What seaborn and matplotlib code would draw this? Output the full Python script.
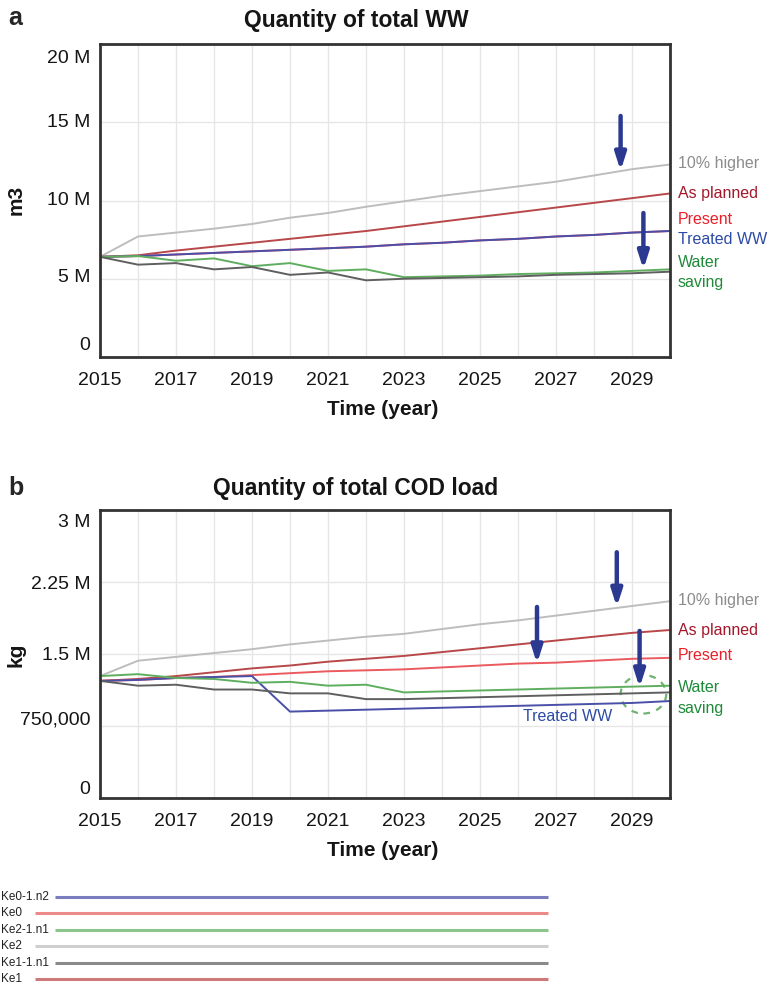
import numpy as np
import pandas as pd
import matplotlib
matplotlib.use("Agg")
import matplotlib.pyplot as plt
from matplotlib.patches import Ellipse
from matplotlib.transforms import ScaledTranslation
import seaborn as sns

years = list(range(2015, 2031))

# quantity of total WW (m3, millions)
ww_higher = [6.4, 7.7, 7.95, 8.2, 8.5, 8.9, 9.2, 9.6, 9.95, 10.3, 10.6, 10.9, 11.2, 11.6, 12.0, 12.3]
ww_planned = [6.4, 6.5, 6.8, 7.05, 7.3, 7.55, 7.8, 8.05, 8.35, 8.65, 8.95, 9.25, 9.55, 9.85, 10.15, 10.45]
ww_present = [6.4, 6.45, 6.55, 6.65, 6.75, 6.85, 6.95, 7.05, 7.2, 7.3, 7.45, 7.55, 7.7, 7.8, 7.95, 8.05]
ww_treated = [6.4, 6.45, 6.55, 6.65, 6.75, 6.85, 6.95, 7.05, 7.2, 7.3, 7.45, 7.55, 7.7, 7.8, 7.95, 8.05]
ww_saving = [6.4, 6.45, 6.15, 6.3, 5.8, 6.0, 5.5, 5.6, 5.1, 5.15, 5.2, 5.3, 5.35, 5.4, 5.5, 5.6]
ww_base = [6.4, 5.9, 6.0, 5.6, 5.75, 5.25, 5.4, 4.9, 5.0, 5.05, 5.1, 5.15, 5.25, 5.3, 5.35, 5.45]

# quantity of total COD load (kg, millions)
cod_higher = [1.27, 1.43, 1.47, 1.51, 1.55, 1.60, 1.64, 1.68, 1.71, 1.76, 1.81, 1.85, 1.90, 1.95, 2.00, 2.05]
cod_planned = [1.22, 1.24, 1.27, 1.31, 1.35, 1.38, 1.42, 1.45, 1.48, 1.52, 1.56, 1.60, 1.64, 1.68, 1.72, 1.75]
cod_present = [1.22, 1.23, 1.25, 1.26, 1.28, 1.30, 1.32, 1.33, 1.34, 1.36, 1.38, 1.40, 1.41, 1.43, 1.45, 1.46]
cod_treated = [1.22, 1.23, 1.25, 1.26, 1.27, 0.90, 0.91, 0.92, 0.93, 0.94, 0.95, 0.96, 0.97, 0.98, 0.99, 1.01]
cod_saving = [1.27, 1.29, 1.25, 1.24, 1.20, 1.21, 1.17, 1.18, 1.10, 1.11, 1.12, 1.13, 1.14, 1.15, 1.16, 1.17]
cod_base = [1.22, 1.17, 1.18, 1.13, 1.13, 1.09, 1.09, 1.03, 1.03, 1.04, 1.05, 1.06, 1.07, 1.08, 1.09, 1.10]

series = ["Ke2", "Ke1", "Ke0", "Ke0-1.n2", "Ke2-1.n1", "Ke1-1.n1"]
line_colors = {"Ke2": "#bdbdbd", "Ke1": "#b8474a", "Ke0": "#ea5a5e",
               "Ke0-1.n2": "#4a4fa8", "Ke2-1.n1": "#5fae5f", "Ke1-1.n1": "#5f5f5f"}
legend_order = ["Ke0-1.n2", "Ke0", "Ke2-1.n1", "Ke2", "Ke1-1.n1", "Ke1"]
legend_colors = {"Ke0-1.n2": "#7a7cc0", "Ke0": "#ec8a8a", "Ke2-1.n1": "#8cc48c",
                 "Ke2": "#cfcfcf", "Ke1-1.n1": "#8a8a8a", "Ke1": "#cf7a7a"}

ww_tab = pd.DataFrame({"year": years * 6,
                       "value": np.array(ww_higher + ww_planned + ww_present + ww_treated + ww_saving + ww_base) * 1e6,
                       "run": np.repeat(series, len(years))})
cod_tab = pd.DataFrame({"year": years * 6,
                        "value": np.array(cod_higher + cod_planned + cod_present + cod_treated + cod_saving + cod_base) * 1e6,
                        "run": np.repeat(series, len(years))})

sns.set_style("white")
plt.rcParams['font.family'] = ['Liberation Sans', 'DejaVu Sans']

W, H = 769, 987
fig = plt.figure(figsize=(W / 100, H / 100), dpi=100)


def px_axes(x0, y0, x1, y1):
    return fig.add_axes([x0 / W, 1 - y1 / H, (x1 - x0) / W, (y1 - y0) / H])


def style_panel(ax, ymax, yticks, ylabels, shifts):
    ax.set_xlim(2015, 2030)
    ax.set_ylim(0, ymax)
    ax.set_xticks(range(2015, 2031), minor=True)
    ax.set_xticks(range(2015, 2030, 2))
    ax.set_yticks(yticks)
    ax.set_yticklabels(ylabels)
    ax.grid(True, which="both", axis="x", color="#e6e6e6", lw=1)
    ax.grid(True, axis="y", color="#e6e6e6", lw=1)
    ax.tick_params(which="both", length=0, labelsize=14, colors="#151515")
    ax.tick_params(axis="x", pad=10)
    ax.tick_params(axis="y", pad=7)
    # labels sit inside the value range, as in the original tool
    for lab, dy in zip(ax.get_yticklabels(), shifts):
        lab.set_transform(lab.get_transform() + ScaledTranslation(0, dy / 100, fig.dpi_scale_trans))
    for s in ax.spines.values():
        s.set_color("#333333")
        s.set_linewidth(2)
    ax.set_xlabel("")
    ax.set_ylabel("")


def arrow(ax, x, y0, y1):
    ax.annotate("", xy=(x, y1), xytext=(x, y0),
                arrowprops=dict(arrowstyle="-|>,head_width=0.32,head_length=1.0",
                                color="#2b3990", lw=3.2, shrinkA=0, shrinkB=0))


lab_kw = dict(fontsize=11.5, clip_on=False, va="center", ha="left")
bold_kw = dict(fontsize=15, fontweight="bold", ha="center", va="center", color="#151515")

# panel a
ax1 = px_axes(100, 45, 670, 358)
sns.lineplot(data=ww_tab, x="year", y="value", hue="run", hue_order=series,
             palette=line_colors, lw=1.4, legend=False, ax=ax1)
style_panel(ax1, 20e6, [0, 5e6, 10e6, 15e6, 20e6], ["0", "5 M", "10 M", "15 M", "20 M"],
            [14, 4, 3, 3, -12])
arrow(ax1, 2028.7, 15.4e6, 11.9e6)
arrow(ax1, 2029.3, 9.2e6, 5.6e6)
ax1.text(2030.2, 12.45e6, "10% higher", color="#8c8c8c", **lab_kw)
ax1.text(2030.2, 10.5e6, "As planned", color="#a3172b", **lab_kw)
ax1.text(2030.2, 8.85e6, "Present", color="#e8202a", **lab_kw)
ax1.text(2030.2, 7.55e6, "Treated WW", color="#2c4aa6", **lab_kw)
ax1.text(2030.2, 6.1e6, "Water", color="#1f8a3a", **lab_kw)
ax1.text(2030.2, 4.8e6, "saving", color="#1f8a3a", **lab_kw)
fig.text(16 / W, 1 - 200 / H, "m3", rotation=90, **bold_kw)
fig.text(383 / W, 1 - 410 / H, "Time (year)", **bold_kw)
fig.text(8 / W, 1 - 18 / H, "a", fontsize=18, fontweight="bold", ha="left", va="center")
fig.text(356 / W, 1 - 20 / H, "Quantity of total WW", fontsize=16.5, fontweight="bold",
         ha="center", va="center", color="#151515")

# panel b
ax2 = px_axes(100, 511, 670, 799)
sns.lineplot(data=cod_tab, x="year", y="value", hue="run", hue_order=series,
             palette=line_colors, lw=1.4, legend=False, ax=ax2)
style_panel(ax2, 3e6, [0, 0.75e6, 1.5e6, 2.25e6, 3e6], ["0", "750,000", "1.5 M", "2.25 M", "3 M"],
            [11, 9, 1, 0, -10])
arrow(ax2, 2026.5, 1.99e6, 1.40e6)
arrow(ax2, 2028.6, 2.56e6, 1.99e6)
arrow(ax2, 2029.2, 1.74e6, 1.15e6)
ax2.add_patch(Ellipse((2029.3, 1.08e6), 1.2, 0.40e6, fill=False, ec="#6fb36f",
                      ls=(0, (3, 3)), lw=1.6))
ax2.text(2030.2, 2.07e6, "10% higher", color="#8c8c8c", **lab_kw)
ax2.text(2030.2, 1.75e6, "As planned", color="#a3172b", **lab_kw)
ax2.text(2030.2, 1.49e6, "Present", color="#e8202a", **lab_kw)
ax2.text(2030.2, 1.16e6, "Water", color="#1f8a3a", **lab_kw)
ax2.text(2030.2, 0.94e6, "saving", color="#1f8a3a", **lab_kw)
ax2.text(2027.3, 0.86e6, "Treated WW", color="#2c4aa6", fontsize=11.5, ha="center", va="center")
fig.text(16 / W, 1 - 655 / H, "kg", rotation=90, **bold_kw)
fig.text(383 / W, 1 - 851 / H, "Time (year)", **bold_kw)
fig.text(8 / W, 1 - 488 / H, "b", fontsize=18, fontweight="bold", ha="left", va="center")
fig.text(356 / W, 1 - 489 / H, "Quantity of total COD load", fontsize=16.5, fontweight="bold",
         ha="center", va="center", color="#151515")

# run legend at the bottom
ax3 = px_axes(0, 888, W, H)
ax3.set_xlim(0, W)
ax3.set_ylim(H, 888)
ax3.axis("off")
for i, name in enumerate(legend_order):
    y = 898 + i * 16.4
    x0 = 55 if "-" in name else 35
    ax3.plot([x0, 548], [y, y], color=legend_colors[name], lw=2.2, solid_capstyle="butt")
    ax3.text(1, y - 1, name, fontsize=8.5, ha="left", va="center", color="#222222", clip_on=False)

fig.savefig("out.png", dpi=100)
